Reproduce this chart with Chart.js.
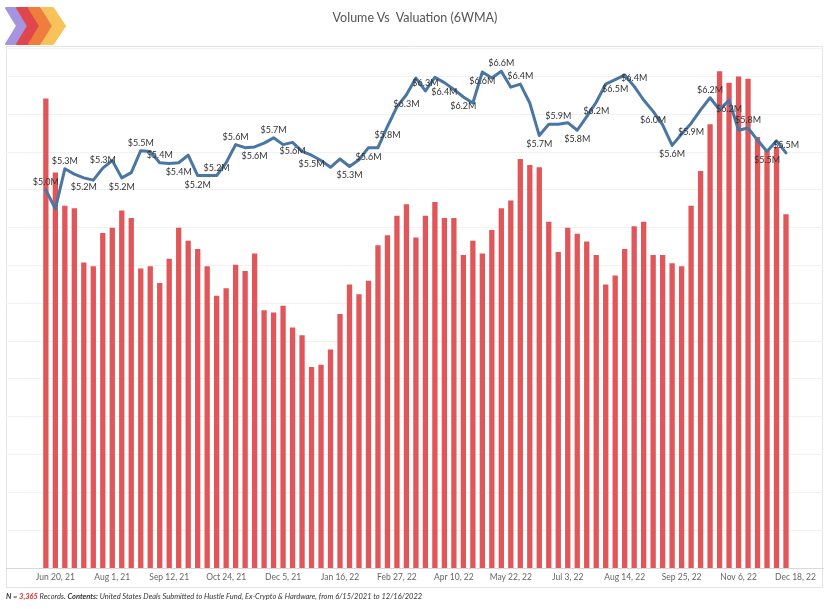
<!DOCTYPE html>
<html>
<head>
<meta charset="utf-8">
<title>Volume Vs Valuation (6WMA)</title>
<script src="https://cdn.jsdelivr.net/npm/chart.js@4.4.1/dist/chart.umd.min.js"></script>
<style>
  body { margin: 0; background: #fff; }
  #wrap { position: relative; width: 830px; height: 609px; font-family: Lato, "Open Sans", sans-serif; }
  #chart { position: absolute; left: 0; top: 0; }
  #title { position: absolute; top: 10px; left: 0; width: 830px; text-align: center; font-size: 12.5px; color: #555; white-space: pre; }
  #logo { position: absolute; left: 4px; top: 6px; }
  #note { position: absolute; left: 6px; top: 592px; font-size: 7.5px; font-style: italic; color: #333; white-space: nowrap; }
  #note b { font-weight: bold; }
  #note .n { color: #e0282e; font-weight: bold; }
</style>
</head>
<body>
<div id="wrap">
  <canvas id="chart" width="830" height="609"></canvas>
  <svg id="logo" width="64" height="40" viewBox="0 0 64 40">
    <polygon points="2,2 13,2 25,20 13,38 2,38 13,20" fill="#a594e0" stroke="#a594e0" stroke-width="2" stroke-linejoin="round"/>
    <polygon points="13,2 24,2 36,20 24,38 13,38 24,20" fill="#e0474c" stroke="#e0474c" stroke-width="2" stroke-linejoin="round"/>
    <polygon points="25,2 36,2 48,20 36,38 25,38 36,20" fill="#ef7d3c" stroke="#ef7d3c" stroke-width="2" stroke-linejoin="round"/>
    <polygon points="38,2 49,2 61,20 49,38 38,38 49,20" fill="#f6c35b" stroke="#f6c35b" stroke-width="2" stroke-linejoin="round"/>
  </svg>
  <div id="title">Volume Vs  Valuation (6WMA)</div>
  <div id="note"><b>N = </b><span class="n">3,365</span> Records. <b>Contents:</b> United States Deals Submitted to Hustle Fund, Ex-Crypto &amp; Hardware, from  6/15/2021 to 12/16/2022</div>
</div>
<script>
// semaines (début de semaine), la dernière sert seulement de repère d'axe
const weeks = [
  "Jun 13, 21", "Jun 20, 21", "Jun 27, 21", "Jul 4, 21", "Jul 11, 21", "Jul 18, 21", "Jul 25, 21", "Aug 1, 21",
  "Aug 8, 21", "Aug 15, 21", "Aug 22, 21", "Aug 29, 21", "Sep 5, 21", "Sep 12, 21", "Sep 19, 21", "Sep 26, 21",
  "Oct 3, 21", "Oct 10, 21", "Oct 17, 21", "Oct 24, 21", "Oct 31, 21", "Nov 7, 21", "Nov 14, 21", "Nov 21, 21",
  "Nov 28, 21", "Dec 5, 21", "Dec 12, 21", "Dec 19, 21", "Dec 26, 21", "Jan 2, 22", "Jan 9, 22", "Jan 16, 22",
  "Jan 23, 22", "Jan 30, 22", "Feb 6, 22", "Feb 13, 22", "Feb 20, 22", "Feb 27, 22", "Mar 6, 22", "Mar 13, 22",
  "Mar 20, 22", "Mar 27, 22", "Apr 3, 22", "Apr 10, 22", "Apr 17, 22", "Apr 24, 22", "May 1, 22", "May 8, 22",
  "May 15, 22", "May 22, 22", "May 29, 22", "Jun 5, 22", "Jun 12, 22", "Jun 19, 22", "Jun 26, 22", "Jul 3, 22",
  "Jul 10, 22", "Jul 17, 22", "Jul 24, 22", "Jul 31, 22", "Aug 7, 22", "Aug 14, 22", "Aug 21, 22", "Aug 28, 22",
  "Sep 4, 22", "Sep 11, 22", "Sep 18, 22", "Sep 25, 22", "Oct 2, 22", "Oct 9, 22", "Oct 16, 22", "Oct 23, 22",
  "Oct 30, 22", "Nov 6, 22", "Nov 13, 22", "Nov 20, 22", "Nov 27, 22", "Dec 4, 22", "Dec 11, 22", "Dec 18, 22"
];

const tickWeeks = [
  "Jun 20, 21", "Aug 1, 21", "Sep 12, 21", "Oct 24, 21", "Dec 5, 21", "Jan 16, 22", "Feb 27, 22",
  "Apr 10, 22", "May 22, 22", "Jul 3, 22", "Aug 14, 22", "Sep 25, 22", "Nov 6, 22", "Dec 18, 22"
];

// volume hebdo (moyenne 6 semaines, nb de deals)
const volume = [
  62.1, 52.3, 47.9, 47.6, 40.4, 39.9, 44.3, 45.0, 47.3, 46.3,
  39.6, 39.9, 37.7, 40.9, 45.0, 43.3, 42.2, 39.9, 36.0, 37.0,
  40.1, 39.3, 41.6, 34.1, 33.8, 34.7, 31.8, 30.8, 26.6, 26.9,
  28.9, 33.6, 37.5, 36.2, 38.0, 42.7, 44.0, 46.6, 48.1, 43.7,
  46.6, 48.4, 46.3, 46.3, 41.4, 43.3, 41.6, 44.7, 47.6, 48.6,
  54.1, 53.3, 53.0, 45.8, 41.8, 45.0, 44.2, 43.2, 41.4, 37.5,
  38.7, 42.2, 45.2, 45.8, 41.4, 41.4, 40.3, 39.9, 47.9, 52.5,
  58.7, 65.7, 64.2, 65.0, 64.7, 57.0, 55.3, 55.7, 46.8
];

// valorisation moyenne (6WMA, en millions $)
const valuation = [
  5.00, 4.75, 5.28, 5.21, 5.16, 5.13, 5.29, 5.39, 5.16, 5.23,
  5.52, 5.51, 5.36, 5.35, 5.36, 5.46, 5.19, 5.19, 5.19, 5.36,
  5.60, 5.56, 5.57, 5.62, 5.69, 5.60, 5.63, 5.51, 5.46, 5.39,
  5.30, 5.41, 5.31, 5.40, 5.56, 5.56, 5.84, 6.10, 6.26, 6.48,
  6.31, 6.49, 6.42, 6.33, 6.23, 6.15, 6.56, 6.48, 6.57, 6.36,
  6.40, 6.15, 5.72, 5.87, 5.87, 5.89, 5.79, 5.97, 6.16, 6.40,
  6.46, 6.52, 6.37, 6.19, 6.04, 5.86, 5.59, 5.74, 5.88, 6.06,
  6.22, 6.06, 6.19, 5.79, 5.82, 5.66, 5.51, 5.65, 5.49
];

// points étiquetés, au-dessus ou en dessous de la ligne
const labelsAbove = [0, 2, 6, 10, 12, 18, 20, 24, 40, 48, 50, 54, 62, 70, 74, 78];
const labelsBelow = [4, 8, 14, 16, 22, 26, 28, 32, 34, 36, 38, 42, 44, 46, 52, 56, 58, 60, 64, 66, 68, 72, 76];

const framePlugin = {
  id: "frame",
  beforeDraw(chart) {
    const { ctx, chartArea } = chart;
    ctx.save();
    ctx.strokeStyle = "#e4e4e4";
    ctx.lineWidth = 1;
    ctx.beginPath();
    ctx.moveTo(chartArea.left + 0.5, chartArea.top - 2);
    ctx.lineTo(chartArea.left + 0.5, 587.5);
    ctx.moveTo(chartArea.right - 0.5, chartArea.top - 2);
    ctx.lineTo(chartArea.right - 0.5, 587.5);
    ctx.moveTo(chartArea.left, chartArea.top - 1.5);
    ctx.lineTo(chartArea.right, chartArea.top - 1.5);
    ctx.moveTo(chartArea.left, 587.5);
    ctx.lineTo(chartArea.right, 587.5);
    ctx.stroke();
    ctx.restore();
  },
};

const valueLabelPlugin = {
  id: "valueLabels",
  afterDatasetsDraw(chart) {
    const { ctx } = chart;
    const meta = chart.getDatasetMeta(1);
    ctx.save();
    ctx.font = "9px Lato, 'Open Sans', sans-serif";
    ctx.fillStyle = "#333";
    ctx.textAlign = "center";
    ctx.textBaseline = "middle";
    const draw = (i, dy) => {
      const pt = meta.data[i];
      ctx.fillText("$" + valuation[i].toFixed(1) + "M", pt.x, pt.y + dy);
    };
    labelsAbove.forEach((i) => draw(i, -8));
    labelsBelow.forEach((i) => draw(i, 9));
    ctx.restore();
  },
};

new Chart(document.getElementById("chart"), {
  data: {
    datasets: [
      {
        type: "bar",
        label: "Volume",
        data: volume.map((v, i) => ({ x: i, y: v })),
        backgroundColor: "#e15759",
        barPercentage: 0.56,
        categoryPercentage: 1,
        yAxisID: "yBar",
        order: 2,
      },
      {
        type: "line",
        label: "Valuation",
        data: valuation.map((v, i) => ({ x: i, y: v })),
        borderColor: "#4a76a3",
        borderWidth: 3,
        borderJoinStyle: "round",
        borderCapStyle: "round",
        pointRadius: 0,
        tension: 0,
        yAxisID: "yLine",
        order: 1,
      },
    ],
  },
  options: {
    responsive: false,
    animation: false,
    layout: { padding: { top: 48, left: 6, right: 7, bottom: 22 } },
    plugins: {
      legend: { display: false },
      tooltip: { enabled: false },
      title: { display: false },
    },
    scales: {
      x: {
        type: "linear",
        offset: false,
        min: -4.2,
        max: 81.9,
        afterBuildTicks: (axis) => {
          axis.ticks = tickWeeks.map((w) => ({ value: weeks.indexOf(w) }));
        },
        afterFit: (axis) => { axis.height = 19; },
        ticks: {
          autoSkip: false,
          maxRotation: 0,
          padding: 4,
          color: "#666",
          font: { family: "Lato, 'Open Sans', sans-serif", size: 8.5 },
          callback: (v) => weeks[v],
        },
        grid: { display: false, drawTicks: false, tickLength: 0 },
        border: { display: true, color: "#d8d8d8" },
      },
      yBar: {
        display: false,
        min: 0,
        max: 68.78,
      },
      yLine: {
        position: "left",
        min: 0,
        max: 6.878,
        afterFit: (axis) => { axis.width = 0; },
        ticks: { display: false, stepSize: 0.5 },
        grid: { color: "#f1f1f1", drawTicks: false, tickLength: 0 },
        border: { display: false },
      },
    },
  },
  plugins: [framePlugin, valueLabelPlugin],
});
</script>
</body>
</html>
